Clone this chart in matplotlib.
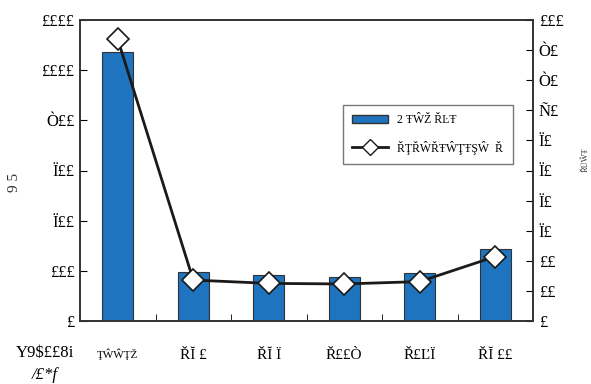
import numpy as np
from matplotlib import pyplot as plt
from matplotlib.lines import Line2D
from matplotlib.patches import Patch

# =============================================================================
# Data (text kept as it appears in the reference)
# =============================================================================
categories = ['ŢŴŴŢŽ', 'ŘĬ £', 'ŘĬ Ï', 'Ř££Ò', 'Ř£ĽÏ', 'ŘĬ ££']
bar_values = [1073, 196, 182, 177, 190, 286]
line_values = [93.6, 13.6, 12.5, 12.3, 13.1, 21.4]

left_ticks = [0, 200, 400, 600, 800, 1000, 1200]
left_labels = ['£', '£££', 'Ï££', 'Ï££', 'Ò££', '££££', '££££']
right_ticks = [0, 10, 20, 30, 40, 50, 60, 70, 80, 90, 100]
right_labels = ['£', '££', '££', 'Ï£', 'Ï£', 'Ï£', 'Ï£', 'Ñ£', 'Ò£', 'Ò£', '£££']

bar_label = '2 ŦŴŽ ŘĿŦ'
line_label = 'ŘŢŘŴŘŦŴŢŦŞŴ  Ř'

plt.rcParams['font.family'] = ['Liberation Serif', 'DejaVu Serif']

fig = plt.figure(figsize=(5.91, 3.84), dpi=100)
ax = fig.add_axes([80 / 591, 1 - 321 / 384, 453 / 591, 301 / 384])
ax2 = ax.twinx()

x = np.arange(len(categories))
ax.bar(x, bar_values, width=0.41, color='#1f74c0', edgecolor='#333333',
       linewidth=0.8, zorder=2)
ax2.plot(x, line_values, color='#1a1a1a', lw=2, marker='D', markersize=11,
         markerfacecolor='white', markeredgecolor='#1a1a1a',
         markeredgewidth=1.2, zorder=3)

ax.set_xlim(-0.5, len(categories) - 0.5)
ax.set_ylim(0, 1200)
ax2.set_ylim(0, 100)

ax.set_xticks(x)
ax.set_xticklabels(categories, fontsize=11)
ax.get_xticklabels()[0].set_fontsize(8)
ax.set_xticks(x[:-1] + 0.5, minor=True)
ax.tick_params(axis='x', which='major', length=0, pad=20)
ax.tick_params(axis='x', which='minor', direction='in', length=5)

ax.set_yticks(left_ticks)
ax.set_yticklabels(left_labels, fontsize=12)
ax.tick_params(axis='y', direction='in', length=5, pad=4)
ax2.set_yticks(right_ticks)
ax2.set_yticklabels(right_labels, fontsize=12)
ax2.tick_params(axis='y', direction='in', length=5, pad=4)

for a in (ax, ax2):
    for s in a.spines.values():
        s.set_color('#333333')
        s.set_linewidth(1.2)

fig.text(15 / 591, 1 - 182 / 384, '9 5', rotation=90, fontsize=11,
         color='#333333', ha='center', va='center')
fig.text(45 / 591, 1 - 353 / 384, 'Y9$££8i', fontsize=12, ha='center',
         va='center')
fig.text(45 / 591, 1 - 375 / 384, '/£*f', fontsize=12, style='italic',
         ha='center', va='center')
fig.text(586 / 591, 1 - 160 / 384, 'ŘŨŴŦ', rotation=90, fontsize=6,
         ha='center', va='center', color='#333333')

handles = [Patch(facecolor='#1f74c0', edgecolor='#333333', label=bar_label),
           Line2D([0], [0], color='#1a1a1a', lw=2, marker='D', markersize=8,
                  markerfacecolor='white', markeredgecolor='#1a1a1a',
                  label=line_label)]
leg = ax2.legend(handles=handles, loc='upper left',
                 bbox_to_anchor=(263 / 453, 1 - 85 / 301), fontsize=8.5,
                 frameon=True, fancybox=False, edgecolor='#555555',
                 borderpad=0.8, labelspacing=1.2, handlelength=3.0,
                 borderaxespad=0)
leg.get_frame().set_linewidth(1.0)

fig.savefig('out.png', dpi=100)
